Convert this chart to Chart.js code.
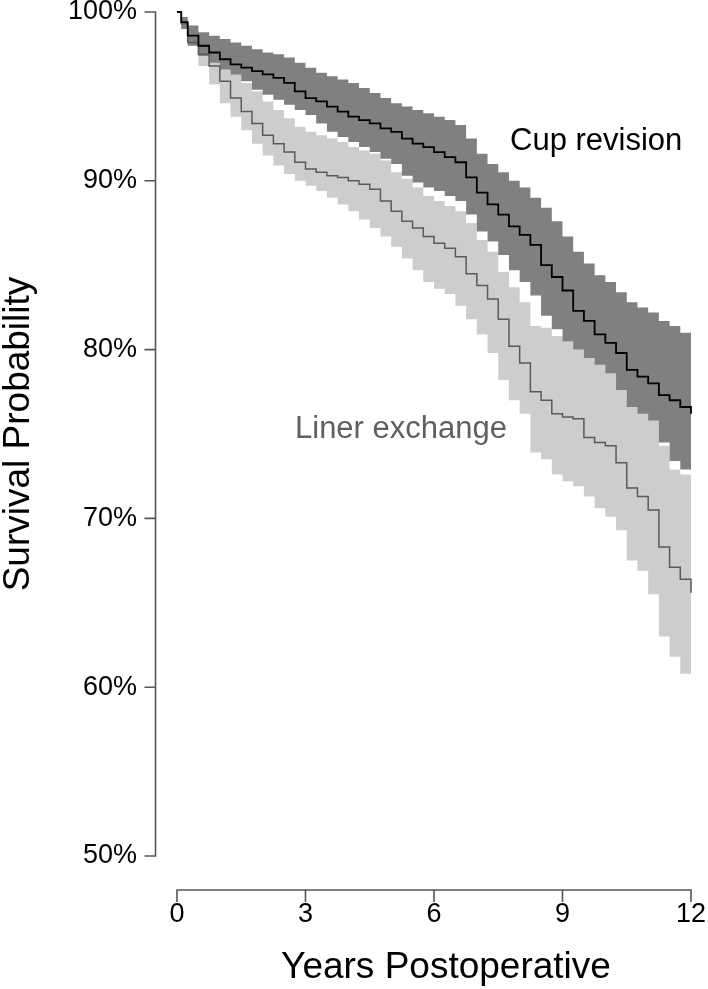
<!DOCTYPE html>
<html>
<head>
<meta charset="utf-8">
<script src="https://cdn.jsdelivr.net/npm/chart.js@4/dist/chart.umd.min.js"></script>
<style>
  html, body { margin: 0; padding: 0; background: #ffffff; }
  #wrap { width: 708px; height: 989px; }
</style>
</head>
<body>
<div id="wrap"><canvas id="c" width="708" height="989"></canvas></div>
<script>
// ---- data (years postoperative, survival %) ----
const years = [0, 0.1, 0.25, 0.5, 0.75, 1, 1.25, 1.5, 1.75, 2, 2.25, 2.5, 2.75, 3, 3.25, 3.5, 3.75,
  4, 4.25, 4.5, 4.75, 5, 5.25, 5.5, 5.75, 6, 6.25, 6.5, 6.75, 7, 7.25, 7.5, 7.75,
  8, 8.25, 8.5, 8.75, 9, 9.25, 9.5, 9.75, 10, 10.25, 10.5, 10.75, 11, 11.25, 11.5, 11.75, 12];

const cupSurv = [100, 99.4, 98.6, 98.0, 97.6, 97.2, 96.9, 96.7, 96.5, 96.3, 96.1, 95.8, 95.3, 94.9, 94.7, 94.4, 94.1,
  93.8, 93.6, 93.4, 93.1, 92.9, 92.5, 92.2, 92.0, 91.7, 91.4, 91.1, 90.2, 89.3, 88.6, 88.0, 87.3,
  86.8, 86.2, 85.0, 84.3, 83.5, 82.3, 81.7, 80.9, 80.4, 79.8, 78.8, 78.4, 78.0, 77.3, 77.0, 76.6, 76.2];
const cupUpper = [100, 99.7, 99.2, 98.8, 98.6, 98.4, 98.2, 98.0, 97.8, 97.6, 97.5, 97.3, 97.0, 96.7, 96.4, 96.2, 96.0,
  95.8, 95.5, 95.2, 94.9, 94.6, 94.4, 94.2, 94.0, 93.8, 93.6, 93.3, 92.5, 91.6, 91.0, 90.5, 90.0,
  89.6, 89.0, 88.4, 87.6, 86.7, 85.8, 85.1, 84.4, 84.0, 83.4, 82.8, 82.5, 82.2, 81.7, 81.4, 81.0, 80.6];
const cupLower = [100, 99.0, 98.0, 97.4, 97.0, 96.6, 96.3, 95.9, 95.4, 95.1, 94.8, 94.5, 94.2, 93.9, 93.4, 92.9, 92.6,
  92.3, 92.0, 91.7, 91.3, 91.0, 90.3, 89.9, 89.6, 89.4, 89.1, 88.8, 88.0, 87.0, 86.4, 85.6, 84.7,
  84.0, 83.2, 82.0, 81.2, 80.5, 80.0, 79.5, 79.1, 78.6, 77.6, 76.6, 76.2, 75.8, 74.5, 73.4, 72.9, 72.5];

const linerSurv = [100, 99.3, 98.2, 97.5, 96.8, 95.9, 94.9, 94.1, 93.4, 92.7, 92.2, 91.7, 91.1, 90.7, 90.5, 90.3, 90.2,
  90.0, 89.8, 89.5, 88.8, 88.2, 87.6, 87.2, 86.7, 86.3, 86.0, 85.5, 84.5, 83.8, 83.0, 81.8, 80.2,
  79.2, 77.5, 77.0, 76.2, 76.0, 75.9, 74.8, 74.5, 74.3, 73.3, 71.8, 71.3, 70.5, 68.3, 67.1, 66.4, 65.6];
const linerUpper = [100, 99.6, 99.0, 98.3, 97.6, 97.0, 96.4, 95.8, 95.3, 94.7, 94.2, 93.7, 93.2, 92.9, 92.7, 92.5, 92.3,
  92.0, 91.8, 91.6, 91.2, 90.5, 90.1, 89.6, 89.1, 88.8, 88.5, 88.2, 87.5, 86.5, 85.8, 84.6, 83.7,
  82.8, 81.4, 81.3, 80.8, 80.6, 80.3, 79.8, 79.3, 78.8, 77.9, 76.9, 76.5, 76.0, 74.3, 72.9, 72.6, 71.9];
const linerLower = [100, 99.0, 98.5, 96.8, 95.7, 94.6, 93.8, 93.0, 92.2, 91.5, 90.9, 90.4, 90.0, 89.7, 89.4, 89.0, 88.6,
  88.2, 87.7, 87.2, 86.7, 86.1, 85.4, 84.7, 84.0, 83.6, 83.3, 82.6, 81.8, 80.9, 79.8, 78.2, 77.0,
  76.2, 73.9, 73.5, 72.6, 72.2, 71.9, 71.3, 70.6, 70.1, 69.3, 67.5, 66.9, 65.5, 63.0, 61.8, 60.8, 60.0];

const xTicks = [0, 3, 6, 9, 12];
const yTicks = [50, 60, 70, 80, 90, 100];
const seriesLabels = ['Cup revision', 'Liner exchange'];
// label anchor positions in data units [year, survival %]
const labelAnchors = [[7.775, 91.82], [2.755, 74.78]];

// ---- styling ----
const FONT = "'Liberation Sans', Arial, Helvetica, sans-serif";
const DARK_BAND = '#808080';
const LIGHT_BAND = '#cdcdcd';
const AXIS_COLOR = '#555555';

function pts(arr) { return years.map((t, i) => ({ x: t, y: arr[i] })); }

const base = { pointRadius: 0, pointHoverRadius: 0, stepped: true, tension: 0, clip: false };

const rAxes = {
  id: 'rAxes',
  afterLayout(chart) {
    // centre the x-axis title on the full axis box (as in the reference)
    const s = chart.scales.x;
    s.left += 12; s.right += 12;
  },
  afterDatasetsDraw(chart) {
    const { ctx, scales: { x, y }, chartArea } = chart;
    ctx.save();
    ctx.strokeStyle = AXIS_COLOR;
    ctx.lineWidth = 1.6;
    const ax = chartArea.left - 21.5;
    const ay = chartArea.bottom + 34;
    ctx.beginPath();
    ctx.moveTo(ax, y.getPixelForValue(yTicks[0]));
    ctx.lineTo(ax, y.getPixelForValue(yTicks[yTicks.length - 1]));
    yTicks.forEach(v => { const p = y.getPixelForValue(v); ctx.moveTo(ax + 0.8, p); ctx.lineTo(ax - 11, p); });
    ctx.moveTo(x.getPixelForValue(xTicks[0]), ay);
    ctx.lineTo(x.getPixelForValue(xTicks[xTicks.length - 1]), ay);
    xTicks.forEach(v => { const p = x.getPixelForValue(v); ctx.moveTo(p, ay - 0.8); ctx.lineTo(p, ay + 12); });
    ctx.stroke();
    // series labels
    ctx.textBaseline = 'alphabetic';
    ctx.textAlign = 'left';
    ctx.font = '31px ' + FONT;
    ctx.fillStyle = '#000000';
    ctx.fillText(seriesLabels[0], x.getPixelForValue(labelAnchors[0][0]), y.getPixelForValue(labelAnchors[0][1]));
    ctx.font = '31px ' + FONT;
    ctx.fillStyle = '#5f5f5f';
    ctx.fillText(seriesLabels[1], x.getPixelForValue(labelAnchors[1][0]), y.getPixelForValue(labelAnchors[1][1]));
    ctx.restore();
  }
};

new Chart(document.getElementById('c'), {
  type: 'line',
  data: {
    datasets: [
      Object.assign({}, base, { label: 'Cup revision', data: pts(cupSurv), borderColor: '#000000', borderWidth: 1.8, fill: false }),
      Object.assign({}, base, { label: 'Liner exchange', data: pts(linerSurv), borderColor: '#5a5a5a', borderWidth: 1.5, fill: false }),
      Object.assign({}, base, { label: 'Cup upper', data: pts(cupUpper), borderWidth: 0, borderColor: 'rgba(0,0,0,0)', backgroundColor: DARK_BAND, fill: '+1' }),
      Object.assign({}, base, { label: 'Cup lower', data: pts(cupLower), borderWidth: 0, borderColor: 'rgba(0,0,0,0)', fill: false }),
      Object.assign({}, base, { label: 'Liner upper', data: pts(linerUpper), borderWidth: 0, borderColor: 'rgba(0,0,0,0)', backgroundColor: LIGHT_BAND, fill: '+1' }),
      Object.assign({}, base, { label: 'Liner lower', data: pts(linerLower), borderWidth: 0, borderColor: 'rgba(0,0,0,0)', fill: false })
    ]
  },
  options: {
    responsive: false,
    devicePixelRatio: 1,
    animation: false,
    events: [],
    layout: { padding: { left: 0, right: 17, top: 12, bottom: 0 } },
    plugins: { legend: { display: false }, tooltip: { enabled: false } },
    scales: {
      x: {
        type: 'linear', min: 0, max: 12,
        afterBuildTicks: s => { s.ticks = xTicks.map(v => ({ value: v })); },
        afterFit: s => { s.height = 133; s.paddingLeft = 0; s.paddingRight = 0; },
        grid: { display: false, drawTicks: false },
        border: { display: false },
        ticks: { color: '#000000', font: { family: FONT, size: 27 }, padding: 42, maxRotation: 0, autoSkip: false },
        title: { display: true, text: 'Years Postoperative', color: '#000000', font: { family: FONT, size: 37, lineHeight: 1 }, padding: { top: 0, bottom: 3 } }
      },
      y: {
        type: 'linear', min: 50, max: 100,
        afterBuildTicks: s => { s.ticks = yTicks.map(v => ({ value: v })); },
        afterFit: s => { s.width = 177; s.paddingTop = 0; s.paddingBottom = 0; },
        grid: { display: false, drawTicks: false },
        border: { display: false },
        ticks: { color: '#000000', font: { family: FONT, size: 27 }, padding: 40, callback: v => v + '%' },
        title: { display: true, text: 'Survival Probability', color: '#000000', font: { family: FONT, size: 37, lineHeight: 1 }, padding: { top: 0, bottom: 0 } }
      }
    }
  },
  plugins: [rAxes]
});
</script>
</body>
</html>
